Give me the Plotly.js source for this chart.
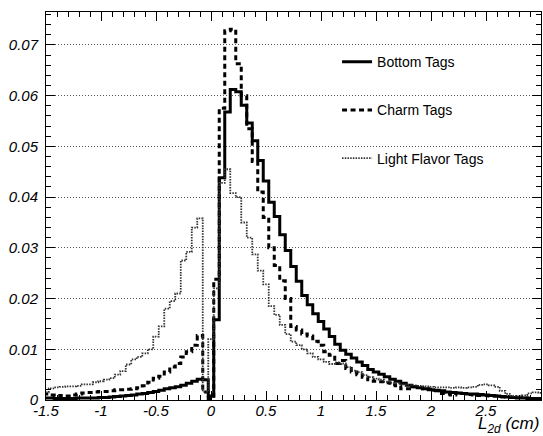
<!DOCTYPE html>
<html>
<head>
<meta charset="utf-8">
<script src="https://cdn.plot.ly/plotly-3.0.1.min.js"></script>
<style>
  html, body { margin: 0; padding: 0; background: #ffffff; }
  #chart { width: 543px; height: 436px; }
</style>
</head>
<body>
<div id="chart"></div>
<script>
// Bin centres of the L2d histograms (cm), bin width 0.05
const binCenters = [
  -1.50, -1.45, -1.40, -1.35, -1.30, -1.25, -1.20, -1.15, -1.10, -1.05,
  -1.00, -0.95, -0.90, -0.85, -0.80, -0.75, -0.70, -0.65, -0.60, -0.55,
  -0.50, -0.45, -0.40, -0.35, -0.30, -0.25, -0.20, -0.15, -0.10, -0.05,
   0.00,
   0.05,  0.10,  0.15,  0.20,  0.25,  0.30,  0.35,  0.40,  0.45,  0.50,
   0.55,  0.60,  0.65,  0.70,  0.75,  0.80,  0.85,  0.90,  0.95,  1.00,
   1.05,  1.10,  1.15,  1.20,  1.25,  1.30,  1.35,  1.40,  1.45,  1.50,
   1.55,  1.60,  1.65,  1.70,  1.75,  1.80,  1.85,  1.90,  1.95,  2.00,
   2.05,  2.10,  2.15,  2.20,  2.25,  2.30,  2.35,  2.40,  2.45,  2.50,
   2.55,  2.60,  2.65,  2.70,  2.75,  2.80,  2.85,  2.90,  2.95,  3.00
];
const binWidth = 0.05;

// Normalised tag distributions
const bottomTags = [
  0.0004, 0.0004, 0.0003, 0.0003, 0.0003, 0.0003, 0.0004, 0.0004, 0.0004, 0.0004,
  0.0005, 0.0005, 0.0006, 0.0007, 0.0008, 0.0009, 0.0010, 0.0012, 0.0013, 0.0015,
  0.0017, 0.0019, 0.0022, 0.0024, 0.0026, 0.0029, 0.0033, 0.0037, 0.0041, 0.0040,
  0.0008,
  0.0158, 0.0438, 0.0568, 0.0612, 0.0608, 0.0581, 0.0546, 0.0511, 0.0472, 0.0432,
  0.0390, 0.0362, 0.0326, 0.0295, 0.0263, 0.0234, 0.0206, 0.0188, 0.0170, 0.0155,
  0.0140, 0.0125, 0.0110, 0.0098, 0.0090, 0.0083, 0.0075, 0.0068, 0.0060, 0.0055,
  0.0051, 0.0046, 0.0041, 0.0037, 0.0033, 0.0029, 0.0026, 0.0024, 0.0022, 0.0020,
  0.0019, 0.0018, 0.0016, 0.0015, 0.0014, 0.0013, 0.0012, 0.0012, 0.0011, 0.0010,
  0.0009, 0.0008, 0.0007, 0.0006, 0.0005, 0.0004, 0.0004, 0.0003, 0.0003, 0.0003
];

const charmTags = [
  0.0012, 0.0010, 0.0008, 0.0009, 0.0008, 0.0010, 0.0012, 0.0014, 0.0015, 0.0016,
  0.0017, 0.0017, 0.0018, 0.0020, 0.0020, 0.0021, 0.0022, 0.0024, 0.0028, 0.0035,
  0.0043, 0.0047, 0.0055, 0.0065, 0.0072, 0.0085, 0.0095, 0.0108, 0.0127, 0.0016,
  0.0003,
  0.0238, 0.0575, 0.0728, 0.0731, 0.0663, 0.0600, 0.0535, 0.0470, 0.0410, 0.0360,
  0.0300, 0.0265, 0.0235, 0.0200, 0.0145, 0.0138, 0.0130, 0.0126, 0.0116, 0.0108,
  0.0095, 0.0088, 0.0072, 0.0078, 0.0062, 0.0055, 0.0050, 0.0045, 0.0040, 0.0037,
  0.0036, 0.0034, 0.0030, 0.0028, 0.0022, 0.0022, 0.0026, 0.0024, 0.0022, 0.0021,
  0.0018, 0.0013, 0.0012, 0.0010, 0.0014, 0.0013, 0.0011, 0.0010, 0.0009, 0.0009,
  0.0008, 0.0008, 0.0006, 0.0006, 0.0005, 0.0005, 0.0004, 0.0004, 0.0003, 0.0003
];

const lightTags = [
  0.0015, 0.0023, 0.0025, 0.0026, 0.0027, 0.0027, 0.0028, 0.0031, 0.0031, 0.0035,
  0.0037, 0.0040, 0.0043, 0.0050, 0.0057, 0.0070, 0.0080, 0.0085, 0.0092, 0.0100,
  0.0125, 0.0145, 0.0180, 0.0195, 0.0210, 0.0275, 0.0292, 0.0340, 0.0358, 0.0016,
  0.0120,
  0.0220, 0.0428, 0.0455, 0.0408, 0.0400, 0.0350, 0.0320, 0.0287, 0.0255, 0.0228,
  0.0185, 0.0168, 0.0148, 0.0130, 0.0115, 0.0108, 0.0100, 0.0092, 0.0085, 0.0080,
  0.0075, 0.0071, 0.0074, 0.0072, 0.0065, 0.0058, 0.0055, 0.0049, 0.0045, 0.0042,
  0.0040, 0.0036, 0.0034, 0.0033, 0.0031, 0.0030, 0.0029, 0.0028, 0.0027, 0.0026,
  0.0025, 0.0025, 0.0025, 0.0024, 0.0025, 0.0024, 0.0025, 0.0026, 0.0030, 0.0031,
  0.0029, 0.0026, 0.0018, 0.0012, 0.0008, 0.0007, 0.0009, 0.0013, 0.0015, 0.0014
];

const seriesNames = ['Bottom Tags', 'Charm Tags', 'Light Flavor Tags'];

const xTickVals = [-1.5, -1, -0.5, 0, 0.5, 1, 1.5, 2, 2.5, 3];
const xTickText = ['-1.5', '-1', '-0.5', '0', '0.5', '1', '1.5', '2', '2.5', '3'];
const yTickVals = [0, 0.01, 0.02, 0.03, 0.04, 0.05, 0.06, 0.07];
const yTickText = ['0', '0.01', '0.02', '0.03', '0.04', '0.05', '0.06', '0.07'];

// Turn bin centres + contents into a step outline (left edges, plus closing edge)
function stepOutline(centers, values) {
  const xs = centers.map(c => c - binWidth / 2);
  xs.push(centers[centers.length - 1] + binWidth / 2);
  const ys = values.slice();
  ys.push(values[values.length - 1]);
  return { x: xs, y: ys };
}

const FONT = 'Liberation Sans, Arial, Helvetica, sans-serif';

function histTrace(values, name, group, line) {
  const s = stepOutline(binCenters, values);
  return {
    type: 'scatter',
    mode: 'lines',
    x: s.x,
    y: s.y,
    name: name,
    legendgroup: group,
    line: Object.assign({ shape: 'hv' }, line),
    hoverinfo: 'skip'
  };
}

const traces = [
  histTrace(bottomTags, seriesNames[0], 'b', { color: '#000000', width: 3 }),
  histTrace(charmTags, seriesNames[1], 'c', { color: '#000000', width: 3, dash: '5px,3.5px' }),
  histTrace(lightTags, seriesNames[2], 'l', { color: '#333333', width: 1.8, dash: '1.5px,1.2px' })
];

const layout = {
  width: 543,
  height: 436,
  margin: { l: 46, r: 2, t: 12, b: 36 },
  paper_bgcolor: '#ffffff',
  plot_bgcolor: '#ffffff',
  font: { family: FONT, color: '#000000' },
  showlegend: true,
  legend: {
    x: 0.588, y: 0.912, xanchor: 'left', yanchor: 'top',
    bgcolor: 'rgba(0,0,0,0)', borderwidth: 0,
    font: { family: FONT, size: 14, color: '#000000' },
    traceorder: 'grouped', tracegroupgap: 27,
    itemwidth: 30
  },
  // white panel behind the legend, hiding the gridlines there
  shapes: [{
    type: 'rect', xref: 'paper', yref: 'paper', layer: 'between',
    x0: 0.588, x1: 0.947, y0: 0.585, y1: 0.955,
    fillcolor: '#ffffff', line: { width: 0 }
  }],
  xaxis: {
    range: [-1.5, 3],
    tickmode: 'array', tickvals: xTickVals, ticktext: xTickText,
    ticks: 'inside', ticklen: 9, tickwidth: 1, tickcolor: '#000000',
    minor: { dtick: 0.1, tick0: 0, ticks: 'inside', ticklen: 5, tickwidth: 1, tickcolor: '#000000', showgrid: false },
    showline: true, linecolor: '#000000', linewidth: 1, mirror: 'ticks',
    showgrid: false, zeroline: false,
    ticklabelstandoff: -3,
    tickfont: { family: FONT, size: 15, style: 'italic', color: '#000000' }
  },
  yaxis: {
    range: [0, 0.0765],
    tickmode: 'array', tickvals: yTickVals, ticktext: yTickText,
    ticks: 'inside', ticklen: 9, tickwidth: 1, tickcolor: '#000000',
    minor: { dtick: 0.002, tick0: 0, ticks: 'inside', ticklen: 5, tickwidth: 1, tickcolor: '#000000', showgrid: false },
    showline: true, linecolor: '#000000', linewidth: 1, mirror: 'ticks',
    showgrid: true, gridcolor: '#555555', gridwidth: 1, griddash: '1px,2px',
    zeroline: false,
    ticklabelstandoff: 4,
    tickfont: { family: FONT, size: 15, style: 'italic', color: '#000000' }
  },
  annotations: [{
    text: '<i>L<sub>2d</sub> (cm)</i>',
    xref: 'paper', yref: 'paper', x: 1, y: 0,
    xanchor: 'right', yanchor: 'top', yshift: -12,
    showarrow: false,
    font: { family: FONT, size: 17, color: '#000000' }
  }]
};

Plotly.newPlot('chart', traces, layout, { displayModeBar: false, staticPlot: true });
</script>
</body>
</html>
